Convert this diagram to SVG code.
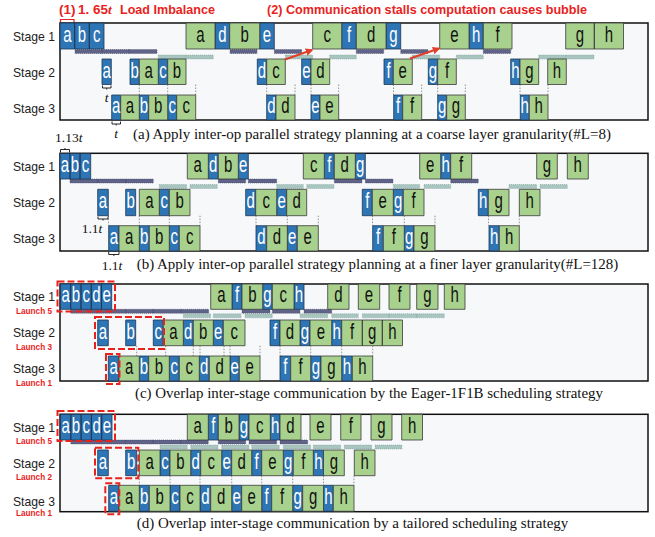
<svg xmlns="http://www.w3.org/2000/svg" width="655" height="537" viewBox="0 0 655 537">
<style>
.bg{fill:#fff}
.frame{fill:#f7f8fa;stroke:#111;stroke-width:1.5}
.F{fill:#2e75b6;stroke:#1d3550;stroke-width:0.8}
.B{fill:#a9d18e;stroke:#3a3a3a;stroke-width:0.8}
.tf,.tb{font-family:"Liberation Sans",Arial,sans-serif;font-size:15px;text-anchor:middle}
.tf{fill:#fff}
.tb{fill:#111}
.dk{fill:#5f6388;stroke:#44476a;stroke-width:0.6;stroke-dasharray:1 1}
.tl{fill:#a8c5bf;stroke:#7fa29a;stroke-width:0.6;stroke-dasharray:1 1}
.stage{font-family:"Liberation Sans",Arial,sans-serif;font-size:13.5px;fill:#222}
.cap{font-family:"Liberation Serif","Times New Roman",serif;font-size:14px;fill:#111}
.red{font-family:"Liberation Sans",Arial,sans-serif;font-weight:bold;fill:#e8231d}
.launch{font-family:"Liberation Sans",Arial,sans-serif;font-weight:bold;font-size:9px;fill:#e8231d}
.box{fill:none;stroke:#e8231d;stroke-width:2;stroke-dasharray:7 3}
.tick{fill:none;stroke:#777;stroke-width:0.8;stroke-dasharray:1.5 1.5}
.brace{fill:none;stroke:#111;stroke-width:0.9}
.math{font-family:"Liberation Serif","Times New Roman",serif;font-size:13.5px;fill:#111}
.arr{stroke:#e0402a;stroke-width:2.2;fill:none}
</style>
<defs>
<marker id="ah" viewBox="0 0 10 10" refX="8" refY="5" markerWidth="3.5" markerHeight="3.5" orient="auto"><path d="M0 0L10 5L0 10z" fill="#e0402a"/></marker>
</defs>
<rect class="bg" x="0" y="0" width="655" height="537"/>

<g id="annotations">
<text class="red" x="59" y="13.5" font-size="13.5">(1)</text>
<text class="red" x="78" y="13.5" font-size="13.5">1. 65<tspan font-style="italic" font-family="Liberation Serif,serif">t</tspan></text>
<text class="red" x="120" y="13.5" font-size="13.5" textLength="95" lengthAdjust="spacingAndGlyphs">Load Imbalance</text>
<text class="red" x="267" y="13.5" font-size="13.5" textLength="320" lengthAdjust="spacingAndGlyphs">(2) Communication stalls computation causes bubble</text>
<path d="M60.5 22.5V19.5H74V22.5" fill="none" stroke="#e8231d" stroke-width="1.2"/>
</g>

<!-- Panel (a) -->
<g id="panel-a">
<rect class="frame" x="60" y="23" width="588" height="97"/>
<text class="stage" x="13" y="40.5" textLength="42" lengthAdjust="spacingAndGlyphs">Stage 1</text>
<text class="stage" x="13" y="76.5" textLength="42" lengthAdjust="spacingAndGlyphs">Stage 2</text>
<text class="stage" x="13" y="112.5" textLength="42" lengthAdjust="spacingAndGlyphs">Stage 3</text>
<g id="a-comm">
<path class="dk" d="M75 49.5H102V53.5H75z M102 49.5H129.5V53.5H102z M129.5 49.5H157V53.5H129.5z M230 49.5H257V53.5H230z M274.3 49.5H301.7V53.5H274.3z M356.3 49.5H383.7V53.5H356.3z M400.7 49.5H428V53.5H400.7z M483.3 49.5H510.7V53.5H483.3z"/>
<path class="tl" d="M158.3 55H185.7V59H158.3z M186 55H213.3V59H186z M285.3 55H312.7V59H285.3z M329.7 55H356.3V59H329.7z M412.3 55H439.7V59H412.3z M456.3 55H483.3V59H456.3z M538.7 55H566V59H538.7z M566.3 55H594V59H566.3z"/>
<path class="tick" d="M139.3 84.5V95M167.7 84.5V95M195.7 84.5V95M266.7 84.5V95M295 84.5V95M311 84.5V95M338.7 84.5V95M393.5 84.5V95M421.7 84.5V95M437.7 84.5V95M465.3 84.5V95M520 84.5V95M548 84.5V95"/>
</g>
<g id="a-stage1">
<path class="F" d="M60 23H74.7V49H60z M74.7 23H89.3V49H74.7z M89.3 23H104V49H89.3z M215 23H229.7V49H215z M259.7 23H274.3V49H259.7z M341.7 23H356.3V49H341.7z M386 23H400.7V49H386z M469 23H483.3V49H469z"/>
<path class="B" d="M186 23H215V49H186z M229.7 23H259.7V49H229.7z M312.7 23H341.7V49H312.7z M356.3 23H386V49H356.3z M439.7 23H469V49H439.7z M483.3 23H512V49H483.3z M565.7 23H594.3V49H565.7z M594.3 23H623.5V49H594.3z"/>
<g class="tf" transform="translate(0,41.7) scale(1,1.5)"><text x="67.4">a</text><text x="82">b</text><text x="96.7">c</text><text x="222.4">d</text><text x="267">e</text><text x="349">f</text><text x="393.4">g</text><text x="476.2">h</text></g>
<g class="tb" transform="translate(0,41.7) scale(1,1.5)"><text x="200.5">a</text><text x="244.7">b</text><text x="327.2">c</text><text x="371.2">d</text><text x="454.4">e</text><text x="497.7">f</text><text x="580">g</text><text x="608.9">h</text></g>
</g>
<g id="a-stage2">
<path class="F" d="M102 59H111.3V84.5H102z M130 59H139.3V84.5H130z M158.3 59H167.7V84.5H158.3z M257.3 59H266.7V84.5H257.3z M301.7 59H311V84.5H301.7z M384 59H393.3V84.5H384z M428.3 59H437.7V84.5H428.3z M510.7 59H520V84.5H510.7z"/>
<path class="B" d="M139.3 59H158.3V84.5H139.3z M167.7 59H186V84.5H167.7z M266.7 59H285.3V84.5H266.7z M311 59H329.7V84.5H311z M393.3 59H412.3V84.5H393.3z M437.7 59H456.3V84.5H437.7z M520 59H538.7V84.5H520z M547.7 59H566.3V84.5H547.7z"/>
<g class="tf" transform="translate(0,77.5) scale(1,1.5)"><text x="106.7">a</text><text x="134.7">b</text><text x="163">c</text><text x="262">d</text><text x="306.4">e</text><text x="388.7">f</text><text x="433">g</text><text x="515.4">h</text></g>
<g class="tb" transform="translate(0,77.5) scale(1,1.5)"><text x="148.8">a</text><text x="176.9">b</text><text x="276">c</text><text x="320.4">d</text><text x="402.8">e</text><text x="447">f</text><text x="529.4">g</text><text x="557">h</text></g>
</g>
<g id="a-stage3">
<path class="F" d="M111.7 95H120.7V120H111.7z M139.3 95H148.7V120H139.3z M167.7 95H176.7V120H167.7z M266.7 95H276V120H266.7z M311 95H320V120H311z M393.7 95H402.7V120H393.7z M437.7 95H446.7V120H437.7z M520.3 95H529.3V120H520.3z"/>
<path class="B" d="M120.7 95H139.3V120H120.7z M148.7 95H167.7V120H148.7z M176.7 95H195.7V120H176.7z M276 95H295V120H276z M320 95H338.7V120H320z M402.7 95H421.7V120H402.7z M446.7 95H465.3V120H446.7z M529.3 95H548V120H529.3z"/>
<g class="tf" transform="translate(0,113) scale(1,1.5)"><text x="116.2">a</text><text x="144">b</text><text x="172.2">c</text><text x="271.4">d</text><text x="315.5">e</text><text x="398.2">f</text><text x="442.2">g</text><text x="524.8">h</text></g>
<g class="tb" transform="translate(0,113) scale(1,1.5)"><text x="130">a</text><text x="158.2">b</text><text x="186.2">c</text><text x="285.5">d</text><text x="329.4">e</text><text x="412.2">f</text><text x="456">g</text><text x="538.7">h</text></g>
</g>
<path class="brace" d="M102.5 85.5V88H111V85.5M106.7 88V89.5M112 121.5V124H120.5V121.5M116.2 124V125.5"/>
<text class="math" x="106.7" y="101.5" text-anchor="middle" font-style="italic">t</text>
<text class="math" x="116.2" y="138" text-anchor="middle" font-style="italic">t</text>
<text class="cap" x="133" y="138.5" textLength="478" lengthAdjust="spacingAndGlyphs">(a) Apply inter-op parallel strategy planning at a coarse layer granularity(#L=8)</text>
</g>

<!-- Panel (b) -->
<g id="panel-b">
<rect class="frame" x="60" y="153.3" width="588" height="97.7"/>
<text class="stage" x="13" y="171" textLength="42" lengthAdjust="spacingAndGlyphs">Stage 1</text>
<text class="stage" x="13" y="206.7" textLength="42" lengthAdjust="spacingAndGlyphs">Stage 2</text>
<text class="stage" x="13" y="242.5" textLength="42" lengthAdjust="spacingAndGlyphs">Stage 3</text>
<g id="b-comm">
<path class="dk" d="M70 179H97.7V183H70z M97.7 179H125.7V183H97.7z M125.7 179H153.3V183H125.7z M218.3 179H245.7V183H218.3z M248.3 179H276.7V183H248.3z M334.3 179H362V183H334.3z M365.3 179H393V183H365.3z M450.7 179H478.3V183H450.7z"/>
<path class="tl" d="M159.3 184.5H186.7V188.5H159.3z M190 184.5H217.3V188.5H190z M276.7 184.5H303.3V188.5H276.7z M306.7 184.5H334V188.5H306.7z M393.3 184.5H419.7V188.5H393.3z M424 184.5H450.7V188.5H424z M509 184.5H536.7V188.5H509z M540 184.5H567.3V188.5H540z"/>
<path class="tick" d="M108.5 215.7V225.7M139.3 215.7V225.7M169.3 215.7V225.7M200 215.7V225.7M256 215.7V225.7M287.3 215.7V225.7M318.3 215.7V225.7M372.5 215.7V225.7M404.3 215.7V225.7M435 215.7V225.7M488.5 215.7V225.7M519.3 215.7V225.7"/>
</g>
<g id="b-stage1">
<path class="F" d="M60 153.5H70V179H60z M70 153.5H80V179H70z M80 153.5H90.7V179H80z M208.3 153.5H218.3V179H208.3z M238.3 153.5H248.3V179H238.3z M324.3 153.5H334.3V179H324.3z M355.3 153.5H365.3V179H355.3z M440.7 153.5H450.7V179H440.7z"/>
<path class="B" d="M187.3 153.5H208.3V179H187.3z M218.3 153.5H238.3V179H218.3z M303.3 153.5H324.3V179H303.3z M334.3 153.5H355.3V179H334.3z M419.7 153.5H440.7V179H419.7z M450.7 153.5H471.7V179H450.7z M536.7 153.5H557.3V179H536.7z M567.3 153.5H588.3V179H567.3z"/>
<g class="tf" transform="translate(0,172) scale(1,1.5)"><text x="65">a</text><text x="75">b</text><text x="85.4">c</text><text x="213.3">d</text><text x="243.3">e</text><text x="329.3">f</text><text x="360.3">g</text><text x="445.7">h</text></g>
<g class="tb" transform="translate(0,172) scale(1,1.5)"><text x="197.8">a</text><text x="228.3">b</text><text x="313.8">c</text><text x="344.8">d</text><text x="430.2">e</text><text x="461.2">f</text><text x="547">g</text><text x="577.8">h</text></g>
</g>
<g id="b-stage2">
<path class="F" d="M97.7 189.3H108.3V215.7H97.7z M125.7 189.3H135.7V215.7H125.7z M159.3 189.3H169.3V215.7H159.3z M245.7 189.3H255.7V215.7H245.7z M276.7 189.3H286.7V215.7H276.7z M362.3 189.3H372.3V215.7H362.3z M393.3 189.3H403.3V215.7H393.3z M478.3 189.3H488.3V215.7H478.3z"/>
<path class="B" d="M139.3 189.3H159.3V215.7H139.3z M169.3 189.3H190V215.7H169.3z M255.7 189.3H276.7V215.7H255.7z M286.7 189.3H306.7V215.7H286.7z M372.3 189.3H393.3V215.7H372.3z M403.3 189.3H424V215.7H403.3z M488.3 189.3H509V215.7H488.3z M519.3 189.3H540V215.7H519.3z"/>
<g class="tf" transform="translate(0,208.3) scale(1,1.5)"><text x="103">a</text><text x="130.7">b</text><text x="164.3">c</text><text x="250.7">d</text><text x="281.7">e</text><text x="367.3">f</text><text x="398.3">g</text><text x="483.3">h</text></g>
<g class="tb" transform="translate(0,208.3) scale(1,1.5)"><text x="149.3">a</text><text x="179.7">b</text><text x="266.2">c</text><text x="296.7">d</text><text x="382.8">e</text><text x="413.7">f</text><text x="498.7">g</text><text x="529.7">h</text></g>
</g>
<g id="b-stage3">
<path class="F" d="M108.7 225.7H119V251H108.7z M139.3 225.7H149.3V251H139.3z M169.3 225.7H179.3V251H169.3z M256 225.7H266.7V251H256z M287.3 225.7H297.3V251H287.3z M372.7 225.7H383.3V251H372.7z M404.3 225.7H414V251H404.3z M489 225.7H499.3V251H489z"/>
<path class="B" d="M119 225.7H139.3V251H119z M149.3 225.7H169.3V251H149.3z M179.3 225.7H200V251H179.3z M266.7 225.7H287.3V251H266.7z M297.3 225.7H318.3V251H297.3z M383.3 225.7H404.3V251H383.3z M414 225.7H435V251H414z M499.3 225.7H519.3V251H499.3z"/>
<g class="tf" transform="translate(0,244) scale(1,1.5)"><text x="113.9">a</text><text x="144.3">b</text><text x="174.3">c</text><text x="261.4">d</text><text x="292.3">e</text><text x="378">f</text><text x="409.2">g</text><text x="494.2">h</text></g>
<g class="tb" transform="translate(0,244) scale(1,1.5)"><text x="129.2">a</text><text x="159.3">b</text><text x="189.7">c</text><text x="277">d</text><text x="307.8">e</text><text x="393.8">f</text><text x="424.5">g</text><text x="509.3">h</text></g>
</g>
<path class="brace" d="M60.5 152.5V149.5H69.5V152.5M65 149.5V148M98 216.5V219H108V216.5M103 219V220.5M108.7 252V254.5H119V252M113.9 254.5V256"/>
<text class="math" x="55" y="141.5">1.13<tspan font-style="italic">t</tspan></text>
<text class="math" x="81.7" y="233">1.1<tspan font-style="italic">t</tspan></text>
<text class="math" x="101.7" y="270">1.1<tspan font-style="italic">t</tspan></text>
<text class="cap" x="136.7" y="268.5" textLength="481.6" lengthAdjust="spacingAndGlyphs">(b) Apply inter-op parallel strategy planning at a finer layer granularity(#L=128)</text>
</g>

<!-- Panel (c) -->
<g id="panel-c">
<rect class="frame" x="60" y="284" width="588" height="97"/>
<text class="stage" x="13" y="301" textLength="42" lengthAdjust="spacingAndGlyphs">Stage 1</text>
<text class="stage" x="13" y="337" textLength="42" lengthAdjust="spacingAndGlyphs">Stage 2</text>
<text class="stage" x="13" y="373" textLength="42" lengthAdjust="spacingAndGlyphs">Stage 3</text>
<text class="launch" x="16" y="313.5" textLength="36" lengthAdjust="spacingAndGlyphs">Launch 5</text>
<text class="launch" x="16" y="349.5" textLength="36" lengthAdjust="spacingAndGlyphs">Launch 3</text>
<text class="launch" x="16" y="385.5" textLength="36" lengthAdjust="spacingAndGlyphs">Launch 1</text>
<g id="c-comm">
<path class="dk" d="M70.7 309.3H97.7V313.3H70.7z M97.7 309.3H125.7V313.3H97.7z M125.7 309.3H153.3V313.3H125.7z M153.3 309.3H181V313.3H153.3z M181 309.3H208.7V313.3H181z M242 309.3H270V313.3H242z M272.3 309.3H300V313.3H272.3z M304 309.3H331.7V313.3H304z"/>
<path class="tl" d="M183.3 313.8H210.7V317.8H183.3z M213.3 313.8H241V317.8H213.3z M245 313.8H272.3V317.8H245z M300 313.8H327.7V317.8H300z M331.7 313.8H358.3V317.8H331.7z M362.3 313.8H389V317.8H362.3z M389 313.8H416.7V317.8H389z M416.7 313.8H444.3V317.8H416.7z"/>
<path class="tick" d="M136.7 345.7V356M165.7 345.7V356M193.3 345.7V356M200 345.7V356M224 345.7V356M230 345.7V356M260 345.7V356M280 345.7V356M310.7 345.7V356M341.7 345.7V356M372.7 345.7V356"/>
</g>
<g id="c-stage1">
<path class="F" d="M60.5 284H70.7V309.3H60.5z M70.7 284H81V309.3H70.7z M81 284H91.3V309.3H81z M91.3 284H101.5V309.3H91.3z M101.5 284H111.7V309.3H101.5z M232 284H242V309.3H232z M262.7 284H272.3V309.3H262.7z M294 284H304V309.3H294z"/>
<path class="B" d="M210.7 284H232V309.3H210.7z M242 284H262.7V309.3H242z M272.3 284H294V309.3H272.3z M327.7 284H349V309.3H327.7z M358.3 284H379.7V309.3H358.3z M389 284H410V309.3H389z M416.7 284H438V309.3H416.7z M444.3 284H465V309.3H444.3z"/>
<g class="tf" transform="translate(0,302.3) scale(1,1.5)"><text x="65.6">a</text><text x="75.9">b</text><text x="86.2">c</text><text x="96.4">d</text><text x="106.6">e</text><text x="237">f</text><text x="267.5">g</text><text x="299">h</text></g>
<g class="tb" transform="translate(0,302.3) scale(1,1.5)"><text x="221.4">a</text><text x="252.4">b</text><text x="283.2">c</text><text x="338.4">d</text><text x="369">e</text><text x="399.5">f</text><text x="427.4">g</text><text x="454.7">h</text></g>
</g>
<g id="c-stage2">
<path class="F" d="M97.7 320H108.3V345.7H97.7z M125.7 320H135.7V345.7H125.7z M153.3 320H163.3V345.7H153.3z M183.3 320H193.3V345.7H183.3z M213.3 320H223.3V345.7H213.3z M270 320H280V345.7H270z M300 320H310V345.7H300z M331.7 320H341.7V345.7H331.7z"/>
<path class="B" d="M163.3 320H183.3V345.7H163.3z M193.3 320H213.3V345.7H193.3z M223.3 320H245V345.7H223.3z M280 320H300V345.7H280z M310 320H331.7V345.7H310z M341.7 320H362.3V345.7H341.7z M362.3 320H382.3V345.7H362.3z M382.3 320H402.5V345.7H382.3z"/>
<g class="tf" transform="translate(0,338.5) scale(1,1.5)"><text x="103">a</text><text x="130.7">b</text><text x="158.3">c</text><text x="188.3">d</text><text x="218.3">e</text><text x="275">f</text><text x="305">g</text><text x="336.7">h</text></g>
<g class="tb" transform="translate(0,338.5) scale(1,1.5)"><text x="173.3">a</text><text x="203.3">b</text><text x="234.2">c</text><text x="290">d</text><text x="320.9">e</text><text x="352">f</text><text x="372.3">g</text><text x="392.4">h</text></g>
</g>
<g id="c-stage3">
<path class="F" d="M108.3 356H119V381H108.3z M139.3 356H148.7V381H139.3z M169.3 356H179.3V381H169.3z M199.3 356H209.3V381H199.3z M230 356H239.3V381H230z M280 356H290.7V381H280z M310.7 356H321V381H310.7z M341.7 356H352.3V381H341.7z"/>
<path class="B" d="M119 356H139.3V381H119z M148.7 356H169.3V381H148.7z M179.3 356H199.3V381H179.3z M209.3 356H230V381H209.3z M239.3 356H260V381H239.3z M290.7 356H310.7V381H290.7z M321 356H341.7V381H321z M352.3 356H372.7V381H352.3z"/>
<g class="tf" transform="translate(0,374) scale(1,1.5)"><text x="113.7">a</text><text x="144">b</text><text x="174.3">c</text><text x="204.3">d</text><text x="234.7">e</text><text x="285.4">f</text><text x="315.9">g</text><text x="347">h</text></g>
<g class="tb" transform="translate(0,374) scale(1,1.5)"><text x="129.2">a</text><text x="159">b</text><text x="189.3">c</text><text x="219.7">d</text><text x="249.7">e</text><text x="300.7">f</text><text x="331.4">g</text><text x="362.5">h</text></g>
</g>
<rect class="box" x="57.5" y="281.5" width="57.5" height="30"/>
<rect class="box" x="95" y="317" width="69" height="32"/>
<rect class="box" x="106" y="354" width="13.5" height="30"/>
<text class="cap" x="135" y="397.5" textLength="468" lengthAdjust="spacingAndGlyphs">(c) Overlap inter-stage communication by the Eager-1F1B scheduling strategy</text>
</g>

<!-- Panel (d) -->
<g id="panel-d">
<rect class="frame" x="60" y="414.3" width="588" height="97.4"/>
<text class="stage" x="13" y="431.5" textLength="42" lengthAdjust="spacingAndGlyphs">Stage 1</text>
<text class="stage" x="13" y="468" textLength="42" lengthAdjust="spacingAndGlyphs">Stage 2</text>
<text class="stage" x="13" y="505.5" textLength="42" lengthAdjust="spacingAndGlyphs">Stage 3</text>
<text class="launch" x="16" y="443.5" textLength="36" lengthAdjust="spacingAndGlyphs">Launch 5</text>
<text class="launch" x="16" y="480" textLength="36" lengthAdjust="spacingAndGlyphs">Launch 2</text>
<text class="launch" x="16" y="515.5" textLength="36" lengthAdjust="spacingAndGlyphs">Launch 1</text>
<g id="d-comm">
<path class="dk" d="M70.8 440H97.7V444H70.8z M97.7 440H125.7V444H97.7z M125.7 440H153V444H125.7z M153 440H180.7V444H153z M180.7 440H208.3V444H180.7z M218.3 440H245.7V444H218.3z M249 440H276.7V444H249z M280 440H307.7V444H280z"/>
<path class="tl" d="M160 445H187.3V449H160z M190.7 445H218V449H190.7z M221.7 445H249V449H221.7z M251.7 445H279.3V449H251.7z M283.3 445H310.7V449H283.3z M313.3 445H340.7V449H313.3z M344.3 445H371.7V449H344.3z M375 445H402V449H375z"/>
<path class="tick" d="M139.3 475.7V485.3M170 475.7V485.3M200 475.7V485.3M231.7 475.7V485.3M261.7 475.7V485.3M292.7 475.7V485.3M323.5 475.7V485.3M354 475.7V485.3"/>
</g>
<g id="d-stage1">
<path class="F" d="M60.5 414.3H70.8V440H60.5z M70.8 414.3H81.1V440H70.8z M81.1 414.3H91.4V440H81.1z M91.4 414.3H101.7V440H91.4z M101.7 414.3H112V440H101.7z M208.3 414.3H218.3V440H208.3z M239 414.3H249V440H239z M270.3 414.3H280V440H270.3z"/>
<path class="B" d="M187.3 414.3H208.3V440H187.3z M218.3 414.3H239V440H218.3z M249 414.3H270.3V440H249z M280 414.3H301V440H280z M310 414.3H331V440H310z M340.7 414.3H361V440H340.7z M371 414.3H392V440H371z M401.7 414.3H422.5V440H401.7z"/>
<g class="tf" transform="translate(0,432.8) scale(1,1.5)"><text x="65.7">a</text><text x="76">b</text><text x="86.3">c</text><text x="96.6">d</text><text x="106.9">e</text><text x="213.3">f</text><text x="244">g</text><text x="275.2">h</text></g>
<g class="tb" transform="translate(0,432.8) scale(1,1.5)"><text x="197.8">a</text><text x="228.7">b</text><text x="259.7">c</text><text x="290.5">d</text><text x="320.5">e</text><text x="350.9">f</text><text x="381.5">g</text><text x="412.1">h</text></g>
</g>
<g id="d-stage2">
<path class="F" d="M97.7 450H108.3V475.7H97.7z M125.7 450H136.7V475.7H125.7z M160 450H170V475.7H160z M190.7 450H200.7V475.7H190.7z M221.7 450H231.7V475.7H221.7z M251.7 450H261.7V475.7H251.7z M283.3 450H293.3V475.7H283.3z M313.3 450H323.5V475.7H313.3z"/>
<path class="B" d="M139.3 450H160V475.7H139.3z M170 450H190.7V475.7H170z M200.7 450H221.7V475.7H200.7z M231.7 450H251.7V475.7H231.7z M261.7 450H283.3V475.7H261.7z M293.3 450H313.3V475.7H293.3z M323.5 450H344.3V475.7H323.5z M354.3 450H375V475.7H354.3z"/>
<g class="tf" transform="translate(0,468.5) scale(1,1.5)"><text x="103">a</text><text x="131.2">b</text><text x="165">c</text><text x="195.7">d</text><text x="226.7">e</text><text x="256.7">f</text><text x="288.3">g</text><text x="318.4">h</text></g>
<g class="tb" transform="translate(0,468.5) scale(1,1.5)"><text x="149.7">a</text><text x="180.4">b</text><text x="211.2">c</text><text x="241.7">d</text><text x="272.5">e</text><text x="303.3">f</text><text x="333.9">g</text><text x="364.7">h</text></g>
</g>
<g id="d-stage3">
<path class="F" d="M108.7 485.3H119V511.3H108.7z M139.3 485.3H149.3V511.3H139.3z M170 485.3H180V511.3H170z M200 485.3H210.7V511.3H200z M231.7 485.3H241.7V511.3H231.7z M261.7 485.3H271.7V511.3H261.7z M292.7 485.3H302.7V511.3H292.7z M323.5 485.3H333.3V511.3H323.5z"/>
<path class="B" d="M119 485.3H139.3V511.3H119z M149.3 485.3H170V511.3H149.3z M180 485.3H200V511.3H180z M210.7 485.3H231.7V511.3H210.7z M241.7 485.3H261.7V511.3H241.7z M271.7 485.3H292.7V511.3H271.7z M302.7 485.3H323.5V511.3H302.7z M333.3 485.3H354V511.3H333.3z"/>
<g class="tf" transform="translate(0,504) scale(1,1.5)"><text x="113.9">a</text><text x="144.3">b</text><text x="175">c</text><text x="205.4">d</text><text x="236.7">e</text><text x="266.7">f</text><text x="297.7">g</text><text x="328.4">h</text></g>
<g class="tb" transform="translate(0,504) scale(1,1.5)"><text x="129.2">a</text><text x="159.7">b</text><text x="190">c</text><text x="221.2">d</text><text x="251.7">e</text><text x="282.2">f</text><text x="313.1">g</text><text x="343.7">h</text></g>
</g>
<rect class="box" x="57.5" y="411" width="57.5" height="30"/>
<rect class="box" x="95" y="447.7" width="43.3" height="30.6"/>
<rect class="box" x="105.3" y="483.3" width="14" height="31"/>
<text class="cap" x="136.7" y="527.5" textLength="431.6" lengthAdjust="spacingAndGlyphs">(d) Overlap inter-stage communication by a tailored scheduling strategy</text>
</g>

<g id="connectors">
<line class="arr" x1="285" y1="59.5" x2="312" y2="50" marker-end="url(#ah)"/>
<line class="arr" x1="410" y1="58.5" x2="439" y2="48.5" marker-end="url(#ah)"/>
</g>
</svg>
